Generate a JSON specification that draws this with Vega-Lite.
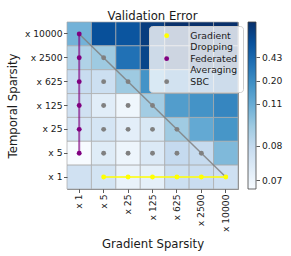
{
  "$schema": "https://vega.github.io/schema/vega-lite/v6.json",
  "padding": {"left": 6, "top": 10, "right": 2, "bottom": 2},
  "bounds": "flush",
  "spacing": 10,
  "config": {
    "font": "DejaVu Sans",
    "view": {"stroke": "#888888", "strokeWidth": 1},
    "axis": {
      "tickSize": 3.5, "tickColor": "#333333", "tickWidth": 0.8,
      "labelFontSize": 9.2, "labelColor": "#1a1a1a", "labelPadding": 1.5,
      "titleFontSize": 11.7, "titleFontWeight": "normal", "titleColor": "#1a1a1a",
      "domain": false, "grid": false
    }
  },
  "datasets": {
    "cells": [
      {"grad": "x 1", "temp": "x 10000", "err": 0.1064},
      {"grad": "x 5", "temp": "x 10000", "err": 0.632},
      {"grad": "x 25", "temp": "x 10000", "err": 0.587},
      {"grad": "x 125", "temp": "x 10000", "err": 0.788},
      {"grad": "x 625", "temp": "x 10000", "err": 0.9},
      {"grad": "x 2500", "temp": "x 10000", "err": 0.9},
      {"grad": "x 10000", "temp": "x 10000", "err": 0.9},
      {"grad": "x 1", "temp": "x 2500", "err": 0.0872},
      {"grad": "x 5", "temp": "x 2500", "err": 0.0938},
      {"grad": "x 25", "temp": "x 2500", "err": 0.364},
      {"grad": "x 125", "temp": "x 2500", "err": 0.721},
      {"grad": "x 625", "temp": "x 2500", "err": 0.9},
      {"grad": "x 2500", "temp": "x 2500", "err": 0.9},
      {"grad": "x 10000", "temp": "x 2500", "err": 0.9},
      {"grad": "x 1", "temp": "x 625", "err": 0.079},
      {"grad": "x 5", "temp": "x 625", "err": 0.0781},
      {"grad": "x 25", "temp": "x 625", "err": 0.0938},
      {"grad": "x 125", "temp": "x 625", "err": 0.181},
      {"grad": "x 625", "temp": "x 625", "err": 0.364},
      {"grad": "x 2500", "temp": "x 625", "err": 0.497},
      {"grad": "x 10000", "temp": "x 625", "err": 0.609},
      {"grad": "x 1", "temp": "x 125", "err": 0.0771},
      {"grad": "x 5", "temp": "x 125", "err": 0.0728},
      {"grad": "x 25", "temp": "x 125", "err": 0.0693},
      {"grad": "x 125", "temp": "x 125", "err": 0.092},
      {"grad": "x 625", "temp": "x 125", "err": 0.155},
      {"grad": "x 2500", "temp": "x 125", "err": 0.181},
      {"grad": "x 10000", "temp": "x 125", "err": 0.249},
      {"grad": "x 1", "temp": "x 25", "err": 0.0756},
      {"grad": "x 5", "temp": "x 25", "err": 0.0756},
      {"grad": "x 25", "temp": "x 25", "err": 0.0722},
      {"grad": "x 125", "temp": "x 25", "err": 0.0747},
      {"grad": "x 625", "temp": "x 25", "err": 0.0932},
      {"grad": "x 2500", "temp": "x 25", "err": 0.123},
      {"grad": "x 10000", "temp": "x 25", "err": 0.174},
      {"grad": "x 1", "temp": "x 5", "err": 0.0674},
      {"grad": "x 5", "temp": "x 5", "err": 0.0732},
      {"grad": "x 25", "temp": "x 5", "err": 0.0698},
      {"grad": "x 125", "temp": "x 5", "err": 0.0742},
      {"grad": "x 625", "temp": "x 5", "err": 0.08},
      {"grad": "x 2500", "temp": "x 5", "err": 0.0795},
      {"grad": "x 10000", "temp": "x 5", "err": 0.103},
      {"grad": "x 1", "temp": "x 1", "err": 0.0771},
      {"grad": "x 5", "temp": "x 1", "err": 0.0761},
      {"grad": "x 25", "temp": "x 1", "err": 0.0708},
      {"grad": "x 125", "temp": "x 1", "err": 0.0717},
      {"grad": "x 625", "temp": "x 1", "err": 0.0781},
      {"grad": "x 2500", "temp": "x 1", "err": 0.0786},
      {"grad": "x 10000", "temp": "x 1", "err": 0.0776}
    ],
    "methods": [
      {"method": "Gradient Dropping", "grad": "x 5", "temp": "x 1"},
      {"method": "Gradient Dropping", "grad": "x 25", "temp": "x 1"},
      {"method": "Gradient Dropping", "grad": "x 125", "temp": "x 1"},
      {"method": "Gradient Dropping", "grad": "x 625", "temp": "x 1"},
      {"method": "Gradient Dropping", "grad": "x 2500", "temp": "x 1"},
      {"method": "Gradient Dropping", "grad": "x 10000", "temp": "x 1"},
      {"method": "Federated Averaging", "grad": "x 1", "temp": "x 5"},
      {"method": "Federated Averaging", "grad": "x 1", "temp": "x 25"},
      {"method": "Federated Averaging", "grad": "x 1", "temp": "x 125"},
      {"method": "Federated Averaging", "grad": "x 1", "temp": "x 625"},
      {"method": "Federated Averaging", "grad": "x 1", "temp": "x 2500"},
      {"method": "Federated Averaging", "grad": "x 1", "temp": "x 10000"},
      {"method": "SBC", "grad": "x 5", "temp": "x 5"},
      {"method": "SBC", "grad": "x 25", "temp": "x 5"},
      {"method": "SBC", "grad": "x 125", "temp": "x 5"},
      {"method": "SBC", "grad": "x 625", "temp": "x 5"},
      {"method": "SBC", "grad": "x 2500", "temp": "x 5"},
      {"method": "SBC", "grad": "x 5", "temp": "x 25"},
      {"method": "SBC", "grad": "x 25", "temp": "x 25"},
      {"method": "SBC", "grad": "x 125", "temp": "x 25"},
      {"method": "SBC", "grad": "x 625", "temp": "x 25"},
      {"method": "SBC", "grad": "x 5", "temp": "x 125"},
      {"method": "SBC", "grad": "x 25", "temp": "x 125"},
      {"method": "SBC", "grad": "x 125", "temp": "x 125"},
      {"method": "SBC", "grad": "x 5", "temp": "x 625"},
      {"method": "SBC", "grad": "x 25", "temp": "x 625"},
      {"method": "SBC", "grad": "x 5", "temp": "x 2500"}
    ],
    "diag": [
      {"grad": "x 1", "temp": "x 10000"},
      {"grad": "x 10000", "temp": "x 1"}
    ],
    "cbar": [{"lo": 0.0674, "hi": 0.9}]
  },
  "hconcat": [
    {
      "width": 171,
      "height": 167,
      "title": {"text": "Validation Error", "fontSize": 11.7, "fontWeight": "normal", "color": "#1a1a1a", "frame": "group", "anchor": "middle", "offset": -1},
      "layer": [
        {
          "data": {"name": "cells"},
          "mark": {"type": "rect", "stroke": "#aaaaaa", "strokeOpacity": 0.7, "strokeWidth": 1},
          "encoding": {
            "x": {"field": "grad", "type": "ordinal", "title": "Gradient Sparsity",
              "scale": {"domain": ["x 1", "x 5", "x 25", "x 125", "x 625", "x 2500", "x 10000"], "paddingInner": 0, "paddingOuter": 0},
              "axis": {"labelAngle": 270, "titlePadding": 7}},
            "y": {"field": "temp", "type": "ordinal", "title": "Temporal Sparsity",
              "scale": {"domain": ["x 10000", "x 2500", "x 625", "x 125", "x 25", "x 5", "x 1"], "paddingInner": 0, "paddingOuter": 0},
              "axis": {"titlePadding": 6}},
            "color": {"field": "err", "type": "quantitative",
              "scale": {"domain": [0.0674, 0.07344, 0.0795, 0.0938, 0.1088, 0.184, 0.364, 0.62, 0.9],
                "range": ["#f7fbff", "#deebf7", "#c6dbef", "#9ecae1", "#6baed6", "#4292c6", "#2171b5", "#08519c", "#08306b"],
                "interpolate": "rgb"},
              "legend": null}
          }
        },
        {
          "data": {"name": "diag"},
          "mark": {"type": "line", "color": "#808080", "strokeWidth": 1.5, "opacity": 0.85},
          "encoding": {
            "x": {"field": "grad", "type": "ordinal"},
            "y": {"field": "temp", "type": "ordinal"}
          }
        },
        {
          "data": {"name": "methods"},
          "transform": [{"filter": "datum.method === 'Gradient Dropping'"}],
          "mark": {"type": "line", "color": "#ffff00", "strokeWidth": 2, "opacity": 0.75},
          "encoding": {
            "x": {"field": "grad", "type": "ordinal"},
            "y": {"field": "temp", "type": "ordinal"}
          }
        },
        {
          "data": {"name": "methods"},
          "transform": [{"filter": "datum.method === 'Federated Averaging'"}],
          "mark": {"type": "line", "color": "#800080", "strokeWidth": 2, "opacity": 0.65},
          "encoding": {
            "x": {"field": "grad", "type": "ordinal"},
            "y": {"field": "temp", "type": "ordinal"}
          }
        },
        {
          "data": {"name": "methods"},
          "mark": {"type": "circle", "size": 24, "opacity": 1},
          "encoding": {
            "x": {"field": "grad", "type": "ordinal"},
            "y": {"field": "temp", "type": "ordinal"},
            "fill": {"field": "method", "type": "nominal",
              "scale": {"domain": ["Gradient Dropping", "Federated Averaging", "SBC"], "range": ["#ffff00", "#800080", "#808080"]},
              "legend": {"title": null, "orient": "none", "legendX": 82, "legendY": 4,
                "labelExpr": "split(datum.label, ' ')",
                "labelFontSize": 9.3, "labelColor": "#1a1a1a", "labelLimit": 200,
                "labelOffset": 19, "symbolOffset": 8, "symbolSize": 24, "symbolType": "circle",
                "symbolStrokeWidth": 0, "padding": 5, "rowPadding": 2,
                "fillColor": "rgba(255,255,255,0.8)", "strokeColor": "#cccccc", "cornerRadius": 3,
                "encoding": {"labels": {"lineHeight": {"value": 11}}}}}
          }
        }
      ]
    },
    {
      "width": 8,
      "height": 167,
      "view": {"stroke": null},
      "data": {"name": "cbar"},
      "mark": {"type": "rect", "stroke": "#444444", "strokeWidth": 0.8,
        "fill": {"gradient": "linear", "x1": 0, "y1": 1, "x2": 0, "y2": 0,
          "stops": [
            {"offset": 0, "color": "#f7fbff"},
            {"offset": 0.125, "color": "#deebf7"},
            {"offset": 0.25, "color": "#c6dbef"},
            {"offset": 0.375, "color": "#9ecae1"},
            {"offset": 0.5, "color": "#6baed6"},
            {"offset": 0.625, "color": "#4292c6"},
            {"offset": 0.75, "color": "#2171b5"},
            {"offset": 0.875, "color": "#08519c"},
            {"offset": 1, "color": "#08306b"}
          ]}},
      "encoding": {
        "y": {"field": "lo", "type": "quantitative",
          "scale": {"domain": [0.0674, 0.07, 0.08, 0.11, 0.2, 0.43, 0.9], "range": [167, 158, 123.6, 81.8, 58.5, 35.1, 0], "nice": false, "zero": false},
          "axis": {"orient": "right", "title": null, "values": [0.07, 0.08, 0.11, 0.2, 0.43], "format": ".2f", "labelPadding": 2}},
        "y2": {"field": "hi"}
      }
    }
  ]
}
